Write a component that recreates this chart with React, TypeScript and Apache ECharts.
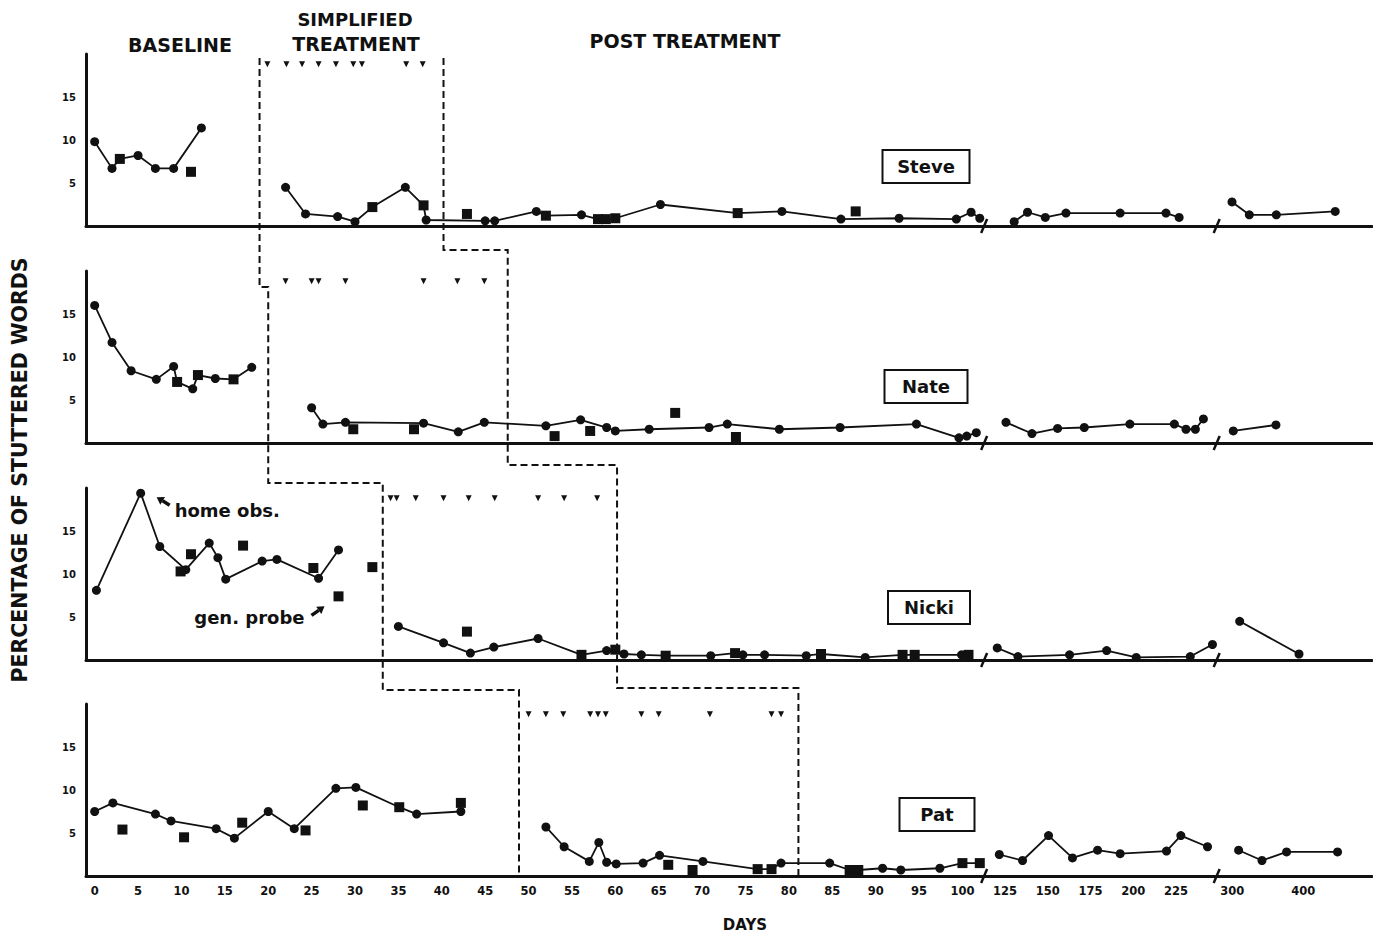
import React, { useEffect, useRef } from 'react';
import * as echarts from 'echarts';

type Pt = [number, number, string];

// ---------- x-axis scale with two breaks (days -> axis position) ----------
function toPos(day: number): number {
  if (day < 110) return day;
  if (day < 270) return 104.9 + (day - 125) * 0.197;
  return 131.1 + (day - 300) * 0.0818;
}
const xTickDays = [0, 5, 10, 15, 20, 25, 30, 35, 40, 45, 50, 55, 60, 65, 70, 75, 80, 85, 90, 95, 100, 125, 150, 175, 200, 225, 300, 400];
const breakPositions = [102.5, 129.3];

// ---------- STEVE ----------
const steveBaseline: Pt[] = [[0, 9.8, 'c'], [2, 6.7, 'c'], [2.9, 7.8, 's'], [5, 8.2, 'c'], [7, 6.7, 'c'], [9.1, 6.7, 'c'], [12.3, 11.4, 'c']];
const steveTreatment: Pt[] = [
  [22, 4.5, 'c'], [24.3, 1.4, 'c'], [28, 1.1, 'c'], [30, 0.5, 'c'], [32, 2.2, 's'], [35.8, 4.5, 'c'], [37.9, 2.4, 's'], [38.2, 0.7, 'c'],
  [45, 0.6, 'c'], [46.1, 0.6, 'c'], [50.9, 1.7, 'c'], [52, 1.2, 's'], [56.1, 1.3, 'c'], [58, 0.8, 's'], [58.9, 0.8, 's'], [60, 0.9, 's'],
  [65.2, 2.5, 'c'], [74.1, 1.5, 's'], [79.2, 1.7, 'c'], [86, 0.8, 'c'], [92.7, 0.9, 'c'], [99.3, 0.8, 'c'], [101, 1.6, 'c'], [102, 0.9, 'c'],
];
const steveFollowUp1: Pt[] = [[130.4, 0.5, 'c'], [138.2, 1.6, 'c'], [148.6, 1.0, 'c'], [160.7, 1.5, 'c'], [192.4, 1.5, 'c'], [219.2, 1.5, 'c'], [226.9, 1.0, 'c']];
const steveFollowUp2: Pt[] = [[299.6, 2.8, 'c'], [324, 1.3, 'c'], [362, 1.3, 'c'], [445, 1.7, 'c']];
const steveProbes: number[][] = [[11.1, 6.3], [42.9, 1.4], [87.7, 1.7]];
const steveSessions = [19.9, 22.1, 23.9, 25.8, 27.8, 29.8, 30.8, 35.9, 37.8];

// ---------- NATE ----------
const nateBaseline: Pt[] = [[0, 16.0, 'c'], [2, 11.7, 'c'], [4.2, 8.4, 'c'], [7.1, 7.4, 'c'], [9.1, 8.9, 'c'], [9.5, 7.1, 's'], [11.3, 6.3, 'c'], [11.9, 7.9, 's'], [13.9, 7.5, 'c'], [16, 7.4, 's'], [18.1, 8.8, 'c']];
const nateTreatment: Pt[] = [
  [25, 4.1, 'c'], [26.3, 2.2, 'c'], [28.9, 2.4, 'c'], [37.9, 2.3, 'c'], [41.9, 1.3, 'c'], [44.9, 2.4, 'c'], [52, 2.0, 'c'], [56, 2.7, 'c'],
  [59, 1.8, 'c'], [60, 1.4, 'c'], [63.9, 1.6, 'c'], [70.8, 1.8, 'c'], [72.9, 2.2, 'c'], [78.9, 1.6, 'c'], [85.9, 1.8, 'c'], [94.7, 2.2, 'c'],
  [99.6, 0.6, 'c'], [100.5, 0.8, 'c'], [101.6, 1.2, 'c'],
];
const nateFollowUp1: Pt[] = [[125.6, 2.4, 'c'], [140.8, 1.1, 'c'], [155.8, 1.7, 'c'], [171.4, 1.8, 'c'], [198.1, 2.2, 'c'], [224.1, 2.2, 'c'], [230.9, 1.6, 'c'], [236.4, 1.6, 'c'], [241.1, 2.8, 'c']];
const nateFollowUp2: Pt[] = [[301.4, 1.4, 'c'], [361.5, 2.1, 'c']];
const nateProbes: number[][] = [[29.8, 1.6], [36.8, 1.6], [53, 0.8], [57.1, 1.4], [66.9, 3.5], [73.9, 0.7]];
const nateSessions = [22.0, 25.0, 25.8, 28.9, 37.9, 41.8, 44.9];

// ---------- NICKI ----------
const nickiBaseline: Pt[] = [[0.2, 8.1, 'c'], [5.3, 19.4, 'c'], [7.5, 13.2, 'c'], [10.5, 10.5, 'c'], [13.2, 13.6, 'c'], [14.2, 11.9, 'c'], [15.1, 9.4, 'c'], [19.3, 11.5, 'c'], [21.0, 11.7, 'c'], [25.8, 9.5, 'c'], [28.1, 12.8, 'c']];
const nickiTreatment: Pt[] = [
  [35.0, 3.9, 'c'], [40.2, 2.0, 'c'], [43.3, 0.8, 'c'], [46.0, 1.5, 'c'], [51.1, 2.5, 'c'], [56.1, 0.6, 's'], [59, 1.1, 'c'], [60, 1.2, 's'],
  [61, 0.7, 'c'], [63, 0.6, 'c'], [65.8, 0.5, 's'], [71, 0.5, 'c'], [73.8, 0.8, 's'], [74.7, 0.6, 'c'], [77.2, 0.6, 'c'], [82, 0.5, 'c'],
  [83.7, 0.7, 's'], [88.8, 0.3, 'c'], [93.1, 0.6, 's'], [94.5, 0.6, 's'], [99.9, 0.6, 'c'], [100.7, 0.6, 's'],
];
const nickiFollowUp1: Pt[] = [[120.5, 1.4, 'c'], [132.6, 0.4, 'c'], [162.8, 0.6, 'c'], [184.5, 1.1, 'c'], [201.8, 0.3, 'c'], [233.4, 0.4, 'c'], [246.4, 1.8, 'c']];
const nickiFollowUp2: Pt[] = [[310.4, 4.5, 'c'], [394, 0.7, 'c']];
const nickiProbes: number[][] = [[9.9, 10.3], [11.1, 12.3], [17.1, 13.3], [25.2, 10.7], [28.1, 7.4], [32.0, 10.8], [42.9, 3.3]];
const nickiSessions = [34.1, 34.8, 37.0, 40.2, 43.1, 46.1, 51.1, 54.1, 57.9];

// ---------- PAT ----------
const patBaseline: Pt[] = [[0, 7.5, 'c'], [2.1, 8.5, 'c'], [7, 7.2, 'c'], [8.8, 6.4, 'c'], [14, 5.5, 'c'], [16.1, 4.4, 'c'], [20, 7.5, 'c'], [23, 5.5, 'c'], [27.8, 10.2, 'c'], [30.1, 10.3, 'c'], [35.1, 8.0, 's'], [37.1, 7.2, 'c'], [42.2, 7.5, 'c']];
const patTreatment: Pt[] = [
  [52, 5.7, 'c'], [54.1, 3.4, 'c'], [57, 1.7, 'c'], [58.1, 3.9, 'c'], [59, 1.6, 'c'], [60.1, 1.4, 'c'], [63.2, 1.5, 'c'], [65.1, 2.4, 'c'],
  [70.1, 1.7, 'c'], [76.4, 0.8, 's'], [78, 0.8, 's'], [79.1, 1.5, 'c'], [84.7, 1.5, 'c'], [87, 0.7, 's'], [88, 0.7, 's'], [90.8, 0.9, 'c'],
  [92.9, 0.7, 'c'], [97.4, 0.9, 'c'], [100, 1.5, 's'], [102, 1.5, 's'],
];
const patFollowUp1: Pt[] = [[121.7, 2.5, 'c'], [135.3, 1.8, 'c'], [150.5, 4.7, 'c'], [164.5, 2.1, 'c'], [179.2, 3.0, 'c'], [192.4, 2.6, 'c'], [219.5, 2.9, 'c'], [227.9, 4.7, 'c'], [243.5, 3.4, 'c']];
const patFollowUp2: Pt[] = [[308.9, 3.0, 'c'], [341.8, 1.8, 'c'], [376.5, 2.8, 'c'], [448.3, 2.8, 'c']];
const patProbes: number[][] = [[3.2, 5.4], [10.3, 4.5], [17, 6.2], [24.3, 5.3], [30.9, 8.2], [42.2, 8.5], [66.1, 1.3], [68.9, 0.7]];
const patSessions = [50.0, 52.0, 54.0, 57.1, 58.0, 58.9, 63.0, 65.0, 70.9, 78.0, 79.1];

// phase-change days (treatment start / end) per child
const treatmentStart = [19.0, 20.0, 33.2, 48.9];
const treatmentEnd = [40.2, 47.6, 60.2, 81.1];

const names = ['Steve', 'Nate', 'Nicki', 'Pat'];
const subjects = [
  { lines: [steveBaseline, steveTreatment, steveFollowUp1, steveFollowUp2], probes: steveProbes, sessions: steveSessions },
  { lines: [nateBaseline, nateTreatment, nateFollowUp1, nateFollowUp2], probes: nateProbes, sessions: nateSessions },
  { lines: [nickiBaseline, nickiTreatment, nickiFollowUp1, nickiFollowUp2], probes: nickiProbes, sessions: nickiSessions },
  { lines: [patBaseline, patTreatment, patFollowUp1, patFollowUp2], probes: patProbes, sessions: patSessions },
];

const FONT = "'DejaVu Sans', 'Liberation Sans', sans-serif";
const INK = '#111';
const GRID_TOPS = [54, 271, 488, 704];
const GRID_H = 172;
const SESSION_Y = 18.8;

function arrow(tail: number[], tip: number[]) {
  const dx = tip[0] - tail[0];
  const dy = tip[1] - tail[1];
  const len = Math.sqrt(dx * dx + dy * dy);
  const ux = dx / len, uy = dy / len;
  const h = 7, w = 4.5;
  const bx = tip[0] - ux * h, by = tip[1] - uy * h;
  return [
    { type: 'line', z: 10, shape: { x1: tail[0], y1: tail[1], x2: bx, y2: by }, style: { stroke: INK, lineWidth: 3.5 } },
    { type: 'polygon', z: 10, shape: { points: [tip, [bx - uy * w, by + ux * w], [bx + uy * w, by - ux * w]] }, style: { fill: INK } },
  ];
}

export default function App() {
  const ref = useRef<HTMLDivElement>(null);
  useEffect(() => {
    if (!ref.current) return;
    const chart = echarts.init(ref.current, undefined, { renderer: 'svg' });
    const tickPos = xTickDays.map(toPos);
    const grids = GRID_TOPS.map((t) => ({ left: 86, right: 1, top: t, height: GRID_H, outerBoundsMode: 'none' }));
    const xAxes = GRID_TOPS.map((_, i) => ({
      gridIndex: i, type: 'value', min: -1, max: 147.2,
      axisLine: { show: true, onZero: false, lineStyle: { color: INK, width: 3 } },
      axisTick: { show: false }, splitLine: { show: false },
      axisLabel: i === 3 ? {
        show: true, customValues: tickPos, margin: 9, color: INK, fontWeight: 'bold', fontSize: 11.5, fontFamily: FONT,
        formatter: (v: number) => {
          const k = tickPos.findIndex((p) => Math.abs(p - v) < 1e-6);
          return k >= 0 ? String(xTickDays[k]) : '';
        },
      } : { show: false },
    }));
    const yAxes = GRID_TOPS.map((_, i) => ({
      gridIndex: i, type: 'value', min: 0, max: 20, interval: 5,
      axisLine: { show: true, onZero: false, lineStyle: { color: INK, width: 3 } },
      axisTick: { show: false }, splitLine: { show: false },
      axisLabel: { color: INK, fontWeight: 'bold', fontSize: 10, fontFamily: FONT, margin: 10, formatter: (v: number) => (v > 0 && v < 20 ? String(v) : '') },
    }));
    const series: any[] = [];
    subjects.forEach((s, i) => {
      s.lines.forEach((line) => {
        series.push({
          type: 'line', xAxisIndex: i, yAxisIndex: i, showSymbol: true, symbolSize: 9,
          lineStyle: { color: INK, width: 1.8 }, itemStyle: { color: INK, opacity: 1 }, z: 3,
          data: line.map((p) => ({ value: [toPos(p[0]), p[1]], symbol: p[2] === 's' ? 'rect' : 'circle', symbolSize: p[2] === 's' ? 10 : 9 })),
        });
      });
      series.push({
        type: 'scatter', xAxisIndex: i, yAxisIndex: i, symbol: 'rect', symbolSize: 10, itemStyle: { color: INK, opacity: 1 }, z: 3,
        data: s.probes.map((p) => [toPos(p[0]), p[1]]),
      });
      series.push({
        type: 'scatter', xAxisIndex: i, yAxisIndex: i, symbol: 'triangle', symbolRotate: 180, symbolSize: [6, 6], itemStyle: { color: INK, opacity: 1 }, z: 3,
        data: s.sessions.map((d) => [toPos(d), SESSION_Y]),
      });
    });
    chart.setOption({ animation: false, backgroundColor: '#fff', grid: grids, xAxis: xAxes, yAxis: yAxes, series });

    const px = (g: number, x: number, y: number) => chart.convertToPixel({ gridIndex: g } as any, [x, y]) as number[];
    const bottoms = GRID_TOPS.map((t) => t + GRID_H);
    const graphics: any[] = [];
    const dash = { stroke: INK, lineWidth: 2, lineDash: [7, 4], fill: null };
    // staircase of phase-change lines
    const xs = treatmentStart.map((d) => px(0, toPos(d), 0)[0]);
    const xe = treatmentEnd.map((d) => px(0, toPos(d), 0)[0]);
    const top = GRID_TOPS[0] + 4;
    const aY = [GRID_TOPS[1] + 16, GRID_TOPS[2] - 5, GRID_TOPS[3] - 14];
    const bY = [GRID_TOPS[1] - 21, GRID_TOPS[2] - 23, GRID_TOPS[3] - 16];
    const stairs = (x: number[], ys: number[]) => {
      const pts: number[][] = [[x[0], top]];
      for (let k = 0; k < 3; k++) { pts.push([x[k], ys[k]]); pts.push([x[k + 1], ys[k]]); }
      pts.push([x[3], bottoms[3]]);
      return pts;
    };
    graphics.push({ type: 'polyline', shape: { points: stairs(xs, aY) }, style: dash, z: 1 });
    graphics.push({ type: 'polyline', shape: { points: stairs(xe, bY) }, style: dash, z: 1 });
    // axis breaks
    for (let g = 0; g < 4; g++) {
      breakPositions.forEach((b) => {
        const p = px(g, b, 0);
        graphics.push({ type: 'line', shape: { x1: p[0] - 3, y1: p[1] + 7, x2: p[0] + 3, y2: p[1] - 7 }, style: { stroke: INK, lineWidth: 2.5 }, z: 10 });
      });
    }
    // headers and titles
    const txt = (text: string, x: number, y: number, size: number, extra: any = {}) => ({
      type: 'text', z: 10, ...extra,
      style: { text, x, y, font: `bold ${size}px ${FONT}`, fill: INK, textAlign: 'center', textVerticalAlign: 'middle' },
    });
    graphics.push(txt('BASELINE', 180, 45, 19));
    graphics.push(txt('SIMPLIFIED', 355, 19, 18));
    graphics.push(txt('TREATMENT', 356, 44, 19));
    graphics.push(txt('POST TREATMENT', 685, 41, 19));
    graphics.push(txt('DAYS', 745, 925, 15));
    graphics.push({ type: 'text', z: 10, x: 20, y: 470, rotation: Math.PI / 2,
      style: { text: 'PERCENTAGE OF STUTTERED WORDS', x: 0, y: 0, font: `bold 20.5px ${FONT}`, fill: INK, textAlign: 'center', textVerticalAlign: 'middle' } });
    // name boxes
    const boxes = [
      { cx: 926, dy: -59.5, w: 87 }, { cx: 926, dy: -56.5, w: 83 }, { cx: 929, dy: -52.5, w: 82 }, { cx: 937, dy: -61.5, w: 75 },
    ];
    boxes.forEach((b, i) => {
      const cy = bottoms[i] + b.dy;
      graphics.push({ type: 'rect', z: 10, shape: { x: b.cx - b.w / 2, y: cy - 16.5, width: b.w, height: 33 }, style: { fill: '#fff', stroke: INK, lineWidth: 2 } });
      graphics.push(txt(names[i], b.cx, cy, 18, { z: 11 }));
    });
    // annotations for Nicki
    const peak = px(2, toPos(nickiBaseline[1][0]), nickiBaseline[1][1]);
    graphics.push({ type: 'text', z: 10, style: { text: 'home obs.', x: peak[0] + 34, y: peak[1] + 17, font: `bold 18px ${FONT}`, fill: INK, textAlign: 'left', textVerticalAlign: 'middle' } });
    graphics.push(...arrow([peak[0] + 29, peak[1] + 12], [peak[0] + 16, peak[1] + 4]));
    const probe = px(2, toPos(nickiProbes[4][0]), nickiProbes[4][1]);
    graphics.push({ type: 'text', z: 10, style: { text: 'gen. probe', x: probe[0] - 34, y: probe[1] + 21, font: `bold 18px ${FONT}`, fill: INK, textAlign: 'right', textVerticalAlign: 'middle' } });
    graphics.push(...arrow([probe[0] - 27, probe[1] + 19], [probe[0] - 14, probe[1] + 10]));
    chart.setOption({ graphic: graphics });
    return () => chart.dispose();
  }, []);
  return <div ref={ref} style={{ position: 'fixed', left: 0, top: 0, width: 1373, height: 938, background: '#fff' }} />;
}
